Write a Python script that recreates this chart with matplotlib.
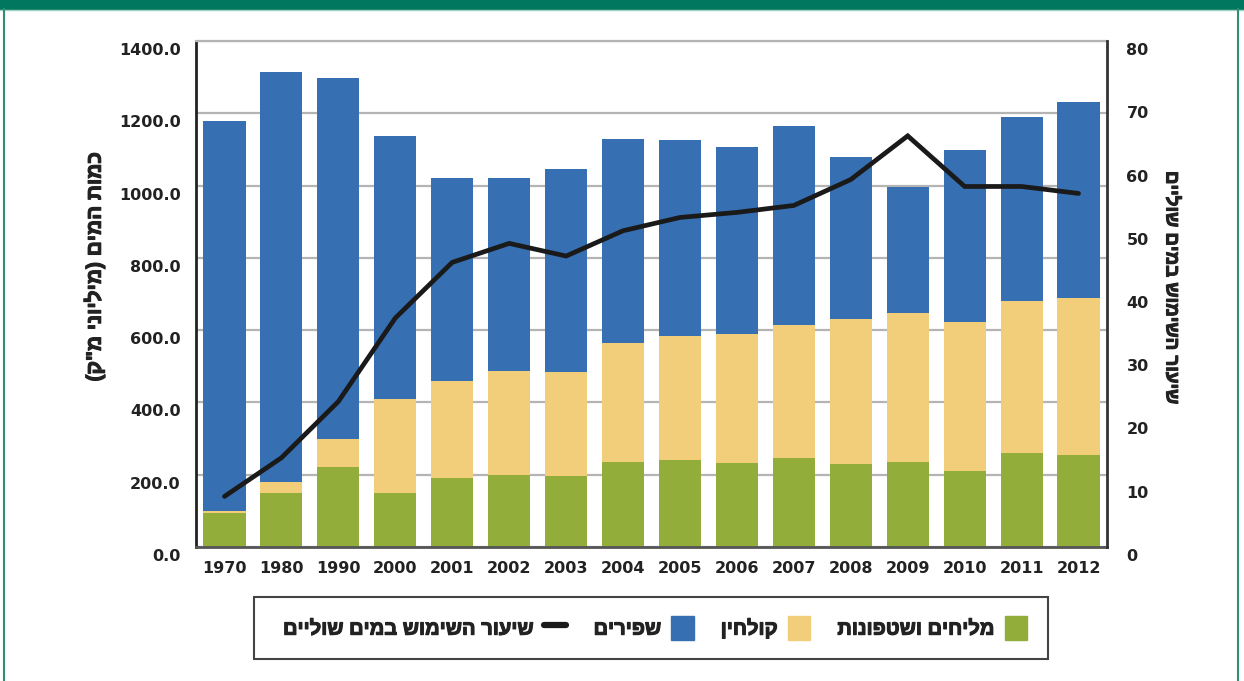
import matplotlib
matplotlib.use("Agg")
import matplotlib.pyplot as plt
import matplotlib.transforms as mtransforms
import matplotlib.patheffects as pe
from matplotlib.patches import Rectangle, Patch
from matplotlib.lines import Line2D
import numpy as np

plt.rcParams['font.family'] = ['DejaVu Sans']
plt.rcParams['font.weight'] = 'bold'
HEB_FONT = ['Liberation Sans', 'DejaVu Sans']
# a thin stroke makes the Hebrew look as heavy as in the original
HEB_FX = [pe.withStroke(linewidth=0.8, foreground='#222222')]

# data
years = ['1970', '1980', '1990', '2000', '2001', '2002', '2003', '2004',
         '2005', '2006', '2007', '2008', '2009', '2010', '2011', '2012']
saline = [95, 149, 221, 149, 192, 199, 196, 236, 240, 232, 246, 230, 235, 210, 260, 254]
effluent = [5, 31, 78, 260, 267, 288, 288, 328, 343, 357, 368, 400, 412, 412, 420, 434]
fresh = [1078, 1133, 998, 727, 561, 533, 561, 564, 542, 517, 550, 448, 348, 476, 509, 543]
marginal_rate = [8, 14.1, 23, 36.2, 45, 48, 46, 50, 52.1, 52.9, 54, 58.1, 65, 57, 57, 55.9]

left_ticks = [0, 200, 400, 600, 800, 1000, 1200, 1400]
right_ticks = [0, 10, 20, 30, 40, 50, 60, 70, 80]

lbl_saline = 'מליחים ושטפונות'
lbl_effluent = 'קולחין'
lbl_fresh = 'שפירים'
lbl_rate = 'שיעור השימוש במים שוליים'
lbl_left = 'כמות המים (מיליוני מ"ק)'
lbl_right = 'שיעור השימוש במים שוליים'

GREEN = '#93AD3B'
YELLOW = '#F3CE7A'
BLUE = '#3670B2'
BAND = '#00775E'


def heb(s):
    # matplotlib has no bidi, so flip the string and mirror brackets
    swap = {'(': ')', ')': '('}
    return ''.join(swap.get(c, c) for c in s[::-1])


W, H = 1244, 681
fig = plt.figure(figsize=(W / 100, H / 100), dpi=100)
ax = fig.add_axes([196 / W, 1 - 547 / H, (1107 - 196) / W, (547 - 41) / H])

x = np.arange(len(years))
s = np.array(saline)
e = np.array(effluent)
f = np.array(fresh)
ax.bar(x, s, width=0.74, color=GREEN, zorder=2)
ax.bar(x, e, width=0.74, bottom=s, color=YELLOW, zorder=2)
ax.bar(x, f, width=0.74, bottom=s + e, color=BLUE, zorder=2)

ax.set_xlim(-0.5, len(years) - 0.5)
ax.set_ylim(0, 1400)
ax.set_yticks(left_ticks)
ax.set_yticklabels(['%.1f' % v for v in left_ticks])
ax.set_xticks(x)
ax.set_xticklabels(years)
ax.yaxis.grid(True, color='#b4b4b4', linewidth=1.6, zorder=0)
ax.set_axisbelow(True)
ax.tick_params(axis='y', length=0, pad=11, labelsize=11.5, colors='#222222')
ax.tick_params(axis='x', length=0, pad=10, labelsize=11.5, colors='#222222')
ax.spines['left'].set_color('#222222')
ax.spines['left'].set_linewidth(2)
ax.spines['bottom'].set_color('#555555')
ax.spines['bottom'].set_linewidth(2)
ax.spines['top'].set_color('#b4b4b4')
ax.spines['top'].set_linewidth(1.6)
ax.spines['right'].set_visible(False)

ax2 = ax.twinx()
ax2.plot(x, marginal_rate, color='#1a1a1a', linewidth=3.4, zorder=5,
         solid_capstyle='round', solid_joinstyle='miter')
ax2.set_ylim(0, 80)
ax2.set_yticks(right_ticks)
ax2.tick_params(axis='y', length=0, pad=14, labelsize=11.5, colors='#222222')
for sp in ['left', 'top', 'bottom']:
    ax2.spines[sp].set_visible(False)
ax2.spines['right'].set_color('#333333')
ax2.spines['right'].set_linewidth(2)

# tick labels sit a little below their grid lines in the original
shift = mtransforms.ScaledTranslation(0, -0.08, fig.dpi_scale_trans)
for t in ax.get_yticklabels() + ax2.get_yticklabels():
    t.set_transform(t.get_transform() + shift)

fig.text(94 / W, 1 - 267 / H, heb(lbl_left), rotation=90, ha='center', va='center',
         fontsize=15, fontweight='bold', color='#222222', family=HEB_FONT,
         path_effects=HEB_FX)
fig.text(1171 / W, 1 - 288 / H, heb(lbl_right), rotation=270, ha='center', va='center',
         fontsize=13.5, fontweight='bold', color='#222222', family=HEB_FONT,
         path_effects=HEB_FX)

# frame decoration
fig.patches.append(Rectangle((0, 1 - 9 / H), 1, 9 / H, transform=fig.transFigure,
                             color=BAND, zorder=0))
fig.add_artist(Line2D([0, 1], [1 - 10 / H, 1 - 10 / H], transform=fig.transFigure,
                      color='#9fd4c4', linewidth=1))
fig.add_artist(Line2D([4 / W, 4 / W], [0, 1 - 9 / H], transform=fig.transFigure,
                      color='#2e8f74', linewidth=1.5))
fig.add_artist(Line2D([1238 / W, 1238 / W], [0, 1 - 9 / H], transform=fig.transFigure,
                      color='#2e8f74', linewidth=1.5))

# legend box
fig.add_artist(Rectangle((254 / W, 1 - 659 / H), (1048 - 254) / W, 62 / H,
                         transform=fig.transFigure, fill=False,
                         edgecolor='#444444', linewidth=1.5))
handles = [Line2D([], [], color='#1a1a1a', linewidth=4.5, solid_capstyle='round'),
           Patch(color=BLUE), Patch(color=YELLOW), Patch(color=GREEN)]
labels = [heb(lbl_rate), heb(lbl_fresh), heb(lbl_effluent), heb(lbl_saline)]
leg = fig.legend(handles, labels, loc='center', ncol=4, frameon=False,
                 bbox_to_anchor=(655 / W, 1 - 628 / H), markerfirst=False,
                 prop={'size': 14.5, 'weight': 'bold', 'family': HEB_FONT},
                 handlelength=1.1, handleheight=1.5,
                 handletextpad=0.5, columnspacing=1.35)
for t in leg.get_texts():
    t.set_color('#222222')
    t.set_path_effects(HEB_FX)

fig.savefig('out.png', dpi=100)
